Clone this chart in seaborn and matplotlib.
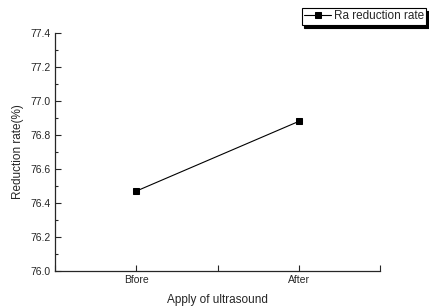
import seaborn as sns
import matplotlib.pyplot as plt
import pandas as pd
from matplotlib.ticker import MultipleLocator

# data
stage = ["Bfore", "After"]
stage_pos = [1, 2]
ra_reduction = [76.47, 76.88]

df = pd.DataFrame({"pos": stage_pos, "rate": ra_reduction})

sns.set_style("ticks")
plt.rcParams['font.family'] = ['Liberation Sans', 'DejaVu Sans']
plt.rcParams['xtick.direction'] = 'in'
plt.rcParams['ytick.direction'] = 'in'

fig = plt.figure(figsize=(4.29, 3.07), dpi=100)
ax = fig.add_axes([55 / 429, 1 - 271 / 307, (380 - 55) / 429, (271 - 33) / 307])

sns.lineplot(x="pos", y="rate", data=df, ax=ax, color="black", lw=0.8,
             marker="s", markersize=5, markeredgecolor="black",
             label="Ra reduction rate")

ax.set_xlim(0.5, 2.5)
ax.set_ylim(76.0, 77.4)
ax.set_xticks(stage_pos)
ax.set_xticklabels(stage)
ax.xaxis.set_minor_locator(MultipleLocator(0.5))
ax.yaxis.set_major_locator(MultipleLocator(0.2))
ax.yaxis.set_minor_locator(MultipleLocator(0.1))
ax.tick_params(which="major", length=4, width=0.8, labelsize=7.5, pad=3)
ax.tick_params(which="minor", length=2.5, width=0.8)
ax.tick_params(axis="x", which="minor", length=4)
for s in ["top", "right"]:
    ax.spines[s].set_visible(False)
for s in ["left", "bottom"]:
    ax.spines[s].set_linewidth(0.9)

ax.set_xlabel("Apply of ultrasound", fontsize=8.5, labelpad=6)
ax.set_ylabel("Reduction rate(%)", fontsize=8.5, labelpad=5)

leg = ax.legend(loc="upper right", bbox_to_anchor=(426 / 429, 1 - 8 / 307),
                bbox_transform=fig.transFigure, fontsize=8.5, frameon=True,
                fancybox=False, shadow={"color": "black", "alpha": 1},
                handlelength=2.3, handletextpad=0.2, borderpad=0.2,
                borderaxespad=0)
leg.get_frame().set_edgecolor("black")
leg.get_frame().set_linewidth(0.8)

fig.savefig("out.png", dpi=100)
